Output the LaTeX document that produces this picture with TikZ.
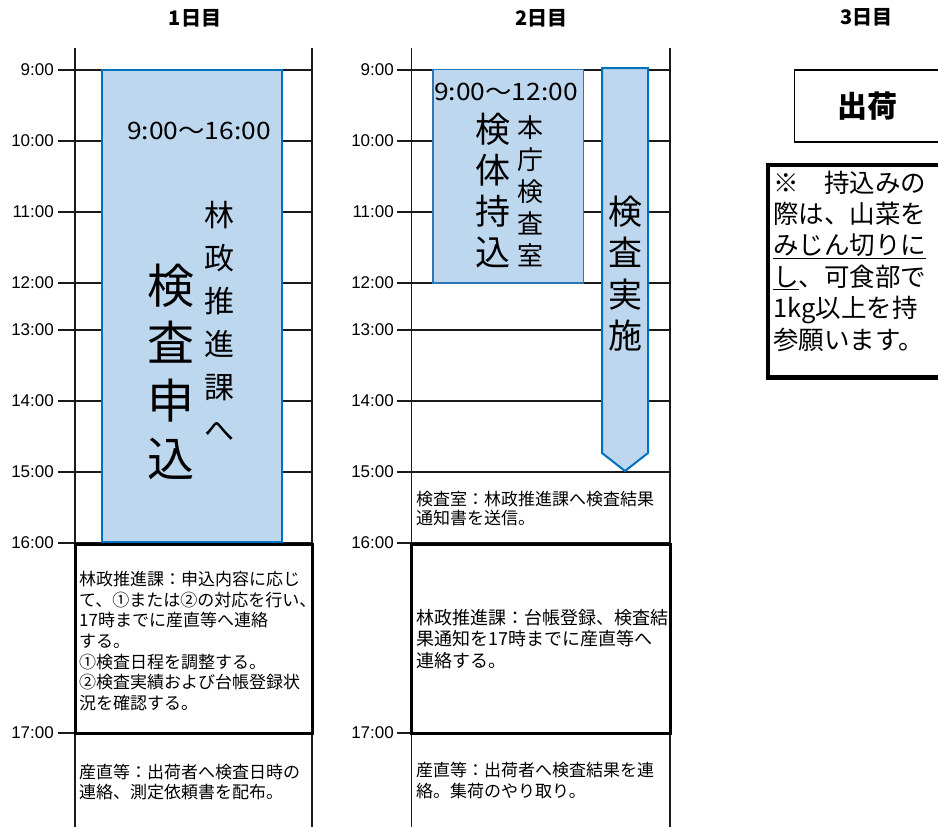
\documentclass[tikz,border=0pt]{standalone}
\usepackage{fontspec}
\setmainfont{Noto Sans CJK JP}
\newfontfamily\arialf{Liberation Sans}
\newfontfamily\rngf[FakeStretch=1.1]{Noto Sans CJK JP}
\definecolor{boxfill}{HTML}{BDD7EE}
\definecolor{boxline}{HTML}{0070C0}
\definecolor{boxlineb}{HTML}{2E75B6}
\definecolor{gridc}{HTML}{1A1A1A}
\begin{document}
\begin{tikzpicture}[x=1pt,y=-1pt,
  gridline/.style={line width=1.3pt, draw=gridc},
  heavybox/.style={line width=3pt, draw=black},
  bluebox/.style={fill=boxfill, draw=boxline, line width=1.5pt},
  tlabel/.style={font=\arialf\fontsize{17}{17}\selectfont, anchor=east, inner sep=0pt},
  hdr/.style={font=\fontsize{20}{20}\selectfont\bfseries, inner sep=0pt},
  memo/.style={align=left, anchor=west, inner sep=0pt},
  vtext/.style={align=center, inner sep=0pt},
  rng/.style={font=\rngf\fontsize{24}{24}\selectfont, inner sep=0pt},
]
\useasboundingbox (0,0) rectangle (938,827);

% grid lines
\foreach \y in {70,141,212,283,330,401,472,543,733} {
  \draw[gridline] (58,\y) -- (312,\y);
  \draw[gridline] (397,\y) -- (670,\y);
}
\draw[gridline] (75,48) -- (75,827);
\draw[gridline] (312,48) -- (312,827);
\draw[gridline] (411.5,48) -- (411.5,827);
\draw[gridline] (670,48) -- (670,827);

% time labels
\foreach \t/\y [count=\i] in {9:00/70,10:00/141,11:00/212,12:00/283,13:00/330,14:00/401,15:00/472,16:00/543,17:00/733} {
  \node[tlabel] (ta\i) at (54,\y) {\t};
  \node[tlabel] (tb\i) at (394,\y) {\t};
}

% headers
\node[hdr] (h1) at (195,18) {1日目};
\node[hdr] (h2) at (541.7,18) {2日目};
\node[hdr] (h3) at (866.7,17) {3日目};

% day 1 blue box
\draw[bluebox] (102,70) rectangle (282,542);
\node[rng] (r1) at (199,131) {9:00～16:00};
\node[vtext, font=\fontsize{30}{43}\selectfont] (v1) at (219,321.5) {林\\政\\推\\進\\課\\へ};
\node[vtext, font=\fontsize{47}{57.7}\selectfont] (v2) at (171,371.5) {検\\査\\申\\込};

% day 2 blue box and arrow
\draw[bluebox, draw=boxlineb] (433,69.5) rectangle (583.5,283);
\node[rng] (r2) at (506,92) {9:00～12:00};
\node[vtext, font=\fontsize{35}{41}\selectfont] (v3) at (492.5,190.3) {検\\体\\持\\込};
\node[vtext, font=\fontsize{26}{32}\selectfont] (v4) at (530,191) {本\\庁\\検\\査\\室};
\draw[bluebox, line width=2pt] (602,68) -- (648,68) -- (648,453) -- (625,471) -- (602,453) -- cycle;
\node[vtext, font=\fontsize{34}{41.4}\selectfont] (v5) at (625,273.7) {検\\査\\実\\施};

% heavy boxes
\draw[heavybox] (75,544) rectangle (312,733);
\draw[heavybox] (411.5,544) rectangle (670,733);

% memo texts
\node[memo, font=\fontsize{17}{20.7}\selectfont] (m1) at (79,641)
  {林政推進課：申込内容に応じ\\て、①または②の対応を行い、\\17時までに産直等へ連絡\\する。\\①検査日程を調整する。\\②検査実績および台帳登録状\\況を確認する。};
\node[memo, font=\fontsize{17}{20}\selectfont] (m2) at (79,782)
  {産直等：出荷者へ検査日時の\\連絡、測定依頼書を配布。};
\node[memo, font=\fontsize{17}{19.5}\selectfont] (m3) at (416,508.5)
  {検査室：林政推進課へ検査結果\\通知書を送信。};
\node[memo, font=\fontsize{18}{21.7}\selectfont] (m4) at (416,639)
  {林政推進課：台帳登録、検査結\\果通知を17時までに産直等へ\\連絡する。};
\node[memo, font=\fontsize{17}{21}\selectfont] (m5) at (416,781)
  {産直等：出荷者へ検査結果を連\\絡。集荷のやり取り。};

% day 3
\draw[line width=1.2pt] (794.5,70) rectangle (950,142);
\node[inner sep=0pt, font=\fontsize{30}{30}\selectfont\bfseries] (ship) at (867.5,106.5) {出荷};
\draw[line width=4.5pt] (768,165) rectangle (950,377.5);
\node[memo, font=\fontsize{25.5}{31.4}\selectfont] (note) at (773,261)
  {※　持込みの\\際は、山菜を\\\underline{みじん切りに}\\\underline{し}、可食部で\\1kg以上を持\\参願います。};
\end{tikzpicture}
\end{document}
